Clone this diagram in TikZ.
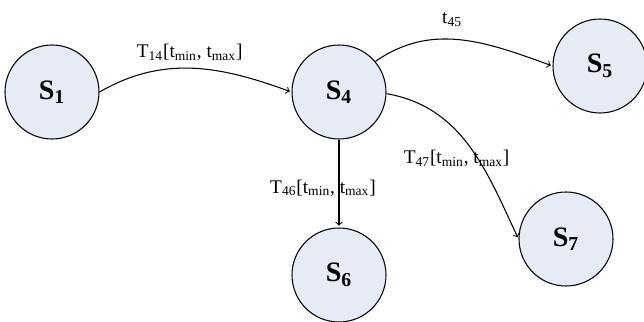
\documentclass[tikz,border=0pt]{standalone}
\usepackage{fontspec}
\setmainfont{Liberation Serif}
\usepackage{tikz}
\usetikzlibrary{automata,positioning,calc}

\definecolor{statefill}{RGB}{230,235,246}

\begin{document}
\begin{tikzpicture}[shorten >=1pt,node distance=2cm,on grid,auto,
    every state/.style={draw, line width=0.6pt, fill=statefill, minimum size=1.88cm, inner sep=0pt, font=\fontsize{16}{18}\selectfont\bfseries},
    lbl/.style={font=\fontsize{11}{13}\selectfont, inner sep=1pt}]

    \useasboundingbox (0,0) rectangle (12.88,-6.44);

    \node[state] (s1) at (1.04,-1.84) {S\textsubscript{1}};
    \node[state] (s4) [right=5.74cm of s1] {S\textsubscript{4}};
    \node[state] (s5) [right=5.22cm of s4, yshift=0.52cm] {S\textsubscript{5}};
    \node[state] (s6) [below=3.66cm of s4] {S\textsubscript{6}};
    \node[state] (s7) [below=2.94cm of s4, xshift=4.54cm] {S\textsubscript{7}};

    \path[->, line width=0.6pt]
    (s1.east) edge[out=30, in=160] node[lbl, pos=0.48, above=3pt] {T\textsubscript{14}[t\textsubscript{min}, t\textsubscript{max}]} (s4.west)
    (s4.40) edge[out=35, in=160] node[lbl, pos=0.45, above=6pt] {t\textsubscript{45}} (s5.west)
    (s4) edge node[lbl, pos=0.55, anchor=center, xshift=-0.32cm] {T\textsubscript{46}[t\textsubscript{min}, t\textsubscript{max}]} (s6)
    (s4.-2) edge[out=-10, in=115] node[lbl, pos=0.58, anchor=center, xshift=-0.42cm] {T\textsubscript{47}[t\textsubscript{min}, t\textsubscript{max}]} (s7.west)
    ;
  \end{tikzpicture}
\end{document}
